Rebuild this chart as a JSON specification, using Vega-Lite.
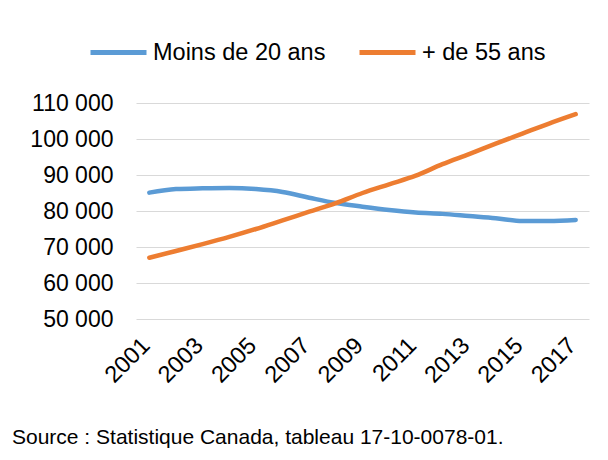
{
  "$schema": "https://vega.github.io/schema/vega-lite/v6.json",
  "autosize": "none",
  "width": 453,
  "height": 216,
  "padding": {"left": 136, "top": 103, "right": 19, "bottom": 141},
  "background": "white",
  "config": {
    "view": {"stroke": null},
    "font": "Liberation Sans"
  },
  "title": {
    "text": "Source : Statistique Canada, tableau 17-10-0078-01.",
    "orient": "bottom",
    "anchor": "start",
    "frame": "group",
    "dx": -124,
    "offset": 40,
    "fontSize": 21,
    "fontWeight": "normal",
    "color": "#000000",
    "font": "Liberation Sans"
  },
  "data": {
    "values": [
      {"annee": 2001, "groupe": "Moins de 20 ans", "valeur": 85100},
      {"annee": 2002, "groupe": "Moins de 20 ans", "valeur": 86100},
      {"annee": 2003, "groupe": "Moins de 20 ans", "valeur": 86300},
      {"annee": 2004, "groupe": "Moins de 20 ans", "valeur": 86400},
      {"annee": 2005, "groupe": "Moins de 20 ans", "valeur": 86100},
      {"annee": 2006, "groupe": "Moins de 20 ans", "valeur": 85300},
      {"annee": 2007, "groupe": "Moins de 20 ans", "valeur": 83700},
      {"annee": 2008, "groupe": "Moins de 20 ans", "valeur": 82200},
      {"annee": 2009, "groupe": "Moins de 20 ans", "valeur": 81200},
      {"annee": 2010, "groupe": "Moins de 20 ans", "valeur": 80300},
      {"annee": 2011, "groupe": "Moins de 20 ans", "valeur": 79600},
      {"annee": 2012, "groupe": "Moins de 20 ans", "valeur": 79200},
      {"annee": 2013, "groupe": "Moins de 20 ans", "valeur": 78600},
      {"annee": 2014, "groupe": "Moins de 20 ans", "valeur": 78000},
      {"annee": 2015, "groupe": "Moins de 20 ans", "valeur": 77200},
      {"annee": 2016, "groupe": "Moins de 20 ans", "valeur": 77200},
      {"annee": 2017, "groupe": "Moins de 20 ans", "valeur": 77500},
      {"annee": 2001, "groupe": "+ de 55 ans", "valeur": 67000},
      {"annee": 2002, "groupe": "+ de 55 ans", "valeur": 68900},
      {"annee": 2003, "groupe": "+ de 55 ans", "valeur": 70800},
      {"annee": 2004, "groupe": "+ de 55 ans", "valeur": 72800},
      {"annee": 2005, "groupe": "+ de 55 ans", "valeur": 75000},
      {"annee": 2006, "groupe": "+ de 55 ans", "valeur": 77400},
      {"annee": 2007, "groupe": "+ de 55 ans", "valeur": 79800},
      {"annee": 2008, "groupe": "+ de 55 ans", "valeur": 82200},
      {"annee": 2009, "groupe": "+ de 55 ans", "valeur": 85000},
      {"annee": 2010, "groupe": "+ de 55 ans", "valeur": 87400},
      {"annee": 2011, "groupe": "+ de 55 ans", "valeur": 89800},
      {"annee": 2012, "groupe": "+ de 55 ans", "valeur": 93000},
      {"annee": 2013, "groupe": "+ de 55 ans", "valeur": 95800},
      {"annee": 2014, "groupe": "+ de 55 ans", "valeur": 98700},
      {"annee": 2015, "groupe": "+ de 55 ans", "valeur": 101500},
      {"annee": 2016, "groupe": "+ de 55 ans", "valeur": 104300},
      {"annee": 2017, "groupe": "+ de 55 ans", "valeur": 106900}
    ]
  },
  "mark": {"type": "line", "interpolate": "monotone", "strokeWidth": 4.5, "strokeCap": "round", "strokeJoin": "round"},
  "encoding": {
    "x": {
      "field": "annee",
      "type": "ordinal",
      "scale": {"type": "point", "padding": 0.5},
      "axis": {
        "title": null,
        "values": [2001, 2003, 2005, 2007, 2009, 2011, 2013, 2015, 2017],
        "labelAngle": -45,
        "labelFontSize": 23.5,
        "labelColor": "#000000",
        "labelPadding": 14,
        "labelOffset": -12,
        "ticks": false,
        "domain": false,
        "grid": false
      }
    },
    "y": {
      "field": "valeur",
      "type": "quantitative",
      "scale": {"domain": [50000, 110000], "nice": false, "zero": false},
      "axis": {
        "title": null,
        "values": [50000, 60000, 70000, 80000, 90000, 100000, 110000],
        "labelExpr": "replace(format(datum.value, ','), ',', ' ')",
        "labelFontSize": 23,
        "labelColor": "#000000",
        "labelPadding": 23,
        "ticks": false,
        "domain": false,
        "grid": true,
        "gridColor": "#d9d9d9",
        "gridWidth": 1.2
      }
    },
    "color": {
      "field": "groupe",
      "type": "nominal",
      "sort": ["Moins de 20 ans", "+ de 55 ans"],
      "scale": {"domain": ["Moins de 20 ans", "+ de 55 ans"], "range": ["#5B9BD5", "#ED7D31"]},
      "legend": {
        "title": null,
        "orient": "none",
        "direction": "horizontal",
        "legendX": -48,
        "legendY": -81,
        "padding": 0,
        "symbolType": "stroke",
        "symbolSize": 3136,
        "symbolStrokeWidth": 5,
        "labelFontSize": 23.5,
        "labelColor": "#000000",
        "labelOffset": 4,
        "columnPadding": 23,
        "labelLimit": 400
      }
    }
  }
}
